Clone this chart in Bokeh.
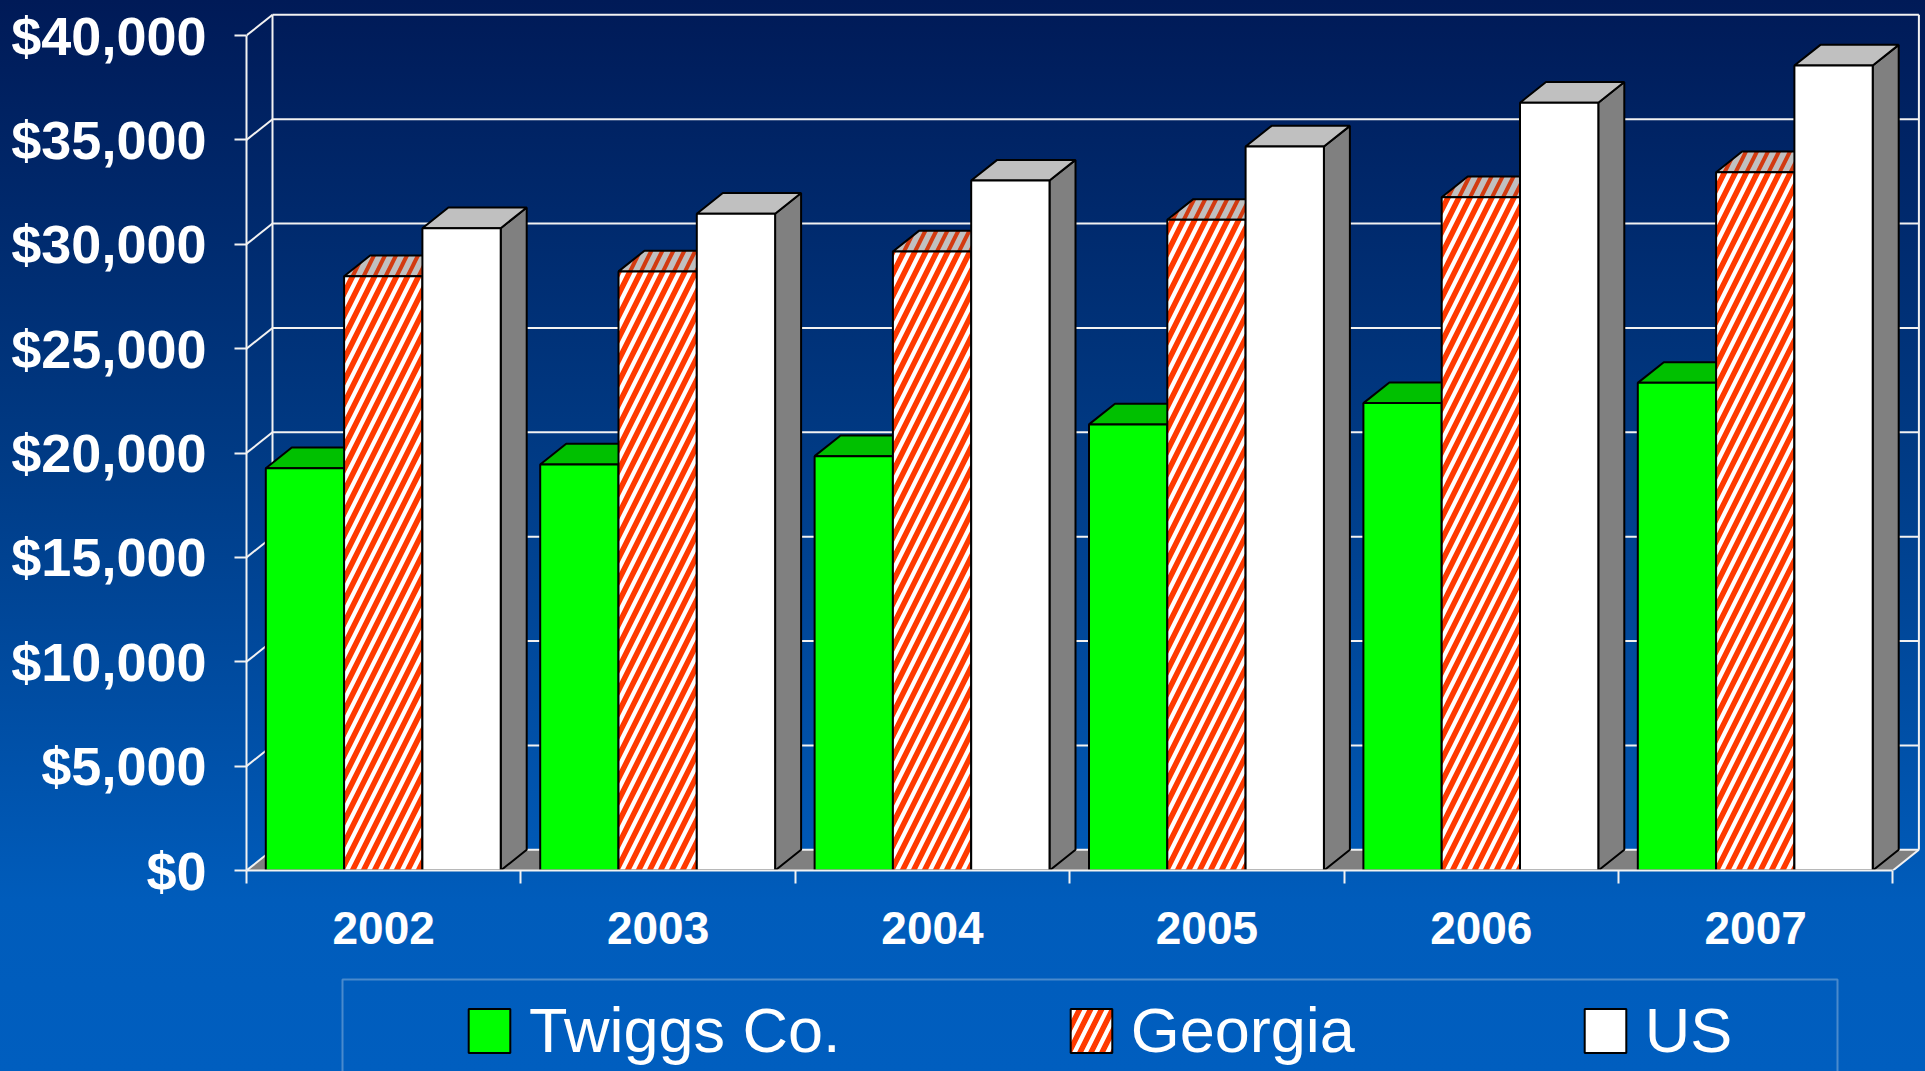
from bokeh.plotting import figure
from bokeh.layouts import column
from bokeh.models import (Range1d, FixedTicker, NumeralTickFormatter, Legend, LegendItem,
                          ColumnDataSource, BoxAnnotation, GlobalInlineStyleSheet)
from bokeh.embed import file_html
from bokeh.resources import INLINE

# ---------------- data ----------------
years = ["2002", "2003", "2004", "2005", "2006", "2007"]
twiggs = [19270, 19450, 19850, 21370, 22390, 23360]
georgia = [28470, 28700, 29650, 31170, 32250, 33450]
us = [30770, 31460, 33050, 34680, 36780, 38560]
series_labels = ["Twiggs Co.", "Georgia", "US"]
y_ticks = [0, 5000, 10000, 15000, 20000, 25000, 30000, 35000, 40000]

# ---------------- geometry ----------------
W = 1925
H1 = 970                  # chart part
H2 = 1071 - H1            # legend strip
FRAME_LEFT = 246
FRAME_H = 870
PX_CAT = 274.4            # px per category
PX_VAL = 835.0 / 40000    # px per dollar
x_end = (W - FRAME_LEFT) / PX_CAT
y_end = FRAME_H / PX_VAL
n = len(years)
DX = 26 / PX_CAT          # depth offset (x, in category units)
DY = 20.7 / PX_VAL        # depth offset (y, in dollars)
GAP = 19.3 / PX_CAT
BW = 78.3 / PX_CAT

page_grad = "linear-gradient(to bottom, #001a57 0px, #003a84 450px, #005cbb 900px, #005ebf 1071px)"

p = figure(width=W, height=H1, x_range=Range1d(0, x_end), y_range=Range1d(0, y_end),
           output_backend="svg", toolbar_location=None,
           min_border_left=FRAME_LEFT, min_border_right=0, min_border_top=0,
           min_border_bottom=H1 - FRAME_H,
           background_fill_alpha=0, border_fill_alpha=0, outline_line_color=None)
p.stylesheets = [GlobalInlineStyleSheet(css=(
    "html{background-color:#005ebf;background-image:" + page_grad +
    ";background-repeat:no-repeat;background-size:100% 1071px;overflow:hidden;}"
    "body{background:transparent;}"))]
p.grid.visible = False

# ---------------- floor and walls ----------------
p.patch([0, n, n + DX, DX], [0, 0, DY, DY], fill_color="#808080", line_color=None)

wall_x0, wall_y0, wall_x1, wall_y1 = [], [], [], []
for t in y_ticks:
    wall_x0.append(DX); wall_y0.append(t + DY); wall_x1.append(n + DX); wall_y1.append(t + DY)
    wall_x0.append(0); wall_y0.append(t); wall_x1.append(DX); wall_y1.append(t + DY)
wall_x0 += [DX, n + DX]; wall_y0 += [DY, DY]
wall_x1 += [DX, n + DX]; wall_y1 += [y_ticks[-1] + DY, y_ticks[-1] + DY]
wall_x0.append(n); wall_y0.append(0); wall_x1.append(n + DX); wall_y1.append(DY)
p.segment(wall_x0, wall_y0, wall_x1, wall_y1, line_color="#f2f2f2", line_width=2)

# ---------------- 3-D bars ----------------
styles = [
    dict(front=dict(fill_color="#00ff00"), top=dict(fill_color="#00c000"), side=dict(fill_color="#008000")),
    dict(front=dict(fill_color="#ffffff", hatch_pattern="/", hatch_color="#ff3a00", hatch_weight=5.5, hatch_scale=22),
         top=dict(fill_color="#c0c0c0", hatch_pattern="/", hatch_color="#d23a10", hatch_weight=4, hatch_scale=22),
         side=dict(fill_color="#808080")),
    dict(front=dict(fill_color="#ffffff"), top=dict(fill_color="#c0c0c0"), side=dict(fill_color="#808080")),
]

for s, vals in enumerate([twiggs, georgia, us]):
    lefts = [i + GAP + s * BW for i in range(n)]
    rights = [l + BW for l in lefts]
    side_xs = [[r, r + DX, r + DX, r] for r in rights]
    side_ys = [[0, DY, v + DY, v] for v in vals]
    p.patches(side_xs, side_ys, line_color="black", line_width=2, **styles[s]["side"])
    top_xs = [[l, r, r + DX, l + DX] for l, r in zip(lefts, rights)]
    top_ys = [[v, v, v + DY, v + DY] for v in vals]
    p.patches(top_xs, top_ys, line_color="black", line_width=2, **styles[s]["top"])
    src = ColumnDataSource(dict(left=lefts, right=rights, top=vals, bottom=[0] * n))
    p.quad(left="left", right="right", top="top", bottom="bottom", source=src,
           line_color="black", line_width=2, **styles[s]["front"])

# ---------------- axes ----------------
yax = p.yaxis[0]
yax.ticker = FixedTicker(ticks=y_ticks)
yax.formatter = NumeralTickFormatter(format="$0,0")
yax.bounds = (0, y_ticks[-1])
yax.axis_line_color = "#f2f2f2"
yax.axis_line_width = 2
yax.major_tick_line_color = "#f2f2f2"
yax.major_tick_line_width = 2
yax.major_tick_out = 12
yax.major_tick_in = 0
yax.minor_tick_line_color = None
yax.major_label_standoff = 28
yax.major_label_text_font = "Liberation Sans"
yax.major_label_text_font_style = "bold"
yax.major_label_text_font_size = "54px"
yax.major_label_text_color = "white"

xax = p.xaxis[0]
xax.ticker = FixedTicker(ticks=[i + 0.5 for i in range(n)], minor_ticks=list(range(n + 1)))
xax.major_label_overrides = {i + 0.5: years[i] for i in range(n)}
xax.bounds = (0, n)
xax.axis_line_color = "#f2f2f2"
xax.axis_line_width = 2
xax.major_tick_line_color = None
xax.major_tick_out = 0
xax.major_tick_in = 0
xax.minor_tick_line_color = "#f2f2f2"
xax.minor_tick_line_width = 2
xax.minor_tick_out = 13
xax.minor_tick_in = 0
xax.major_label_standoff = 28
xax.major_label_text_font = "Liberation Sans"
xax.major_label_text_font_style = "bold"
xax.major_label_text_font_size = "46px"
xax.major_label_text_color = "white"

# ---------------- legend strip ----------------
# (this plot's frame is aligned with the chart's frame, so screen x is measured from x = FRAME_LEFT)
p2 = figure(width=W, height=H2, x_range=Range1d(0, W), y_range=Range1d(0, H2),
            output_backend="svg", toolbar_location=None,
            x_axis_location=None, y_axis_location=None,
            min_border=0, background_fill_alpha=0, border_fill_alpha=0, outline_line_color=None)
p2.grid.visible = False

legend_renderers = []
for s in range(3):
    r = p2.quad(left=[-20], right=[-10], top=[1], bottom=[0],
                line_color="black", line_width=2, **styles[s]["front"])
    legend_renderers.append(r)

box = BoxAnnotation(left=342 - FRAME_LEFT, right=1837 - FRAME_LEFT, top=H2 - 9, bottom=-30,
                    left_units="screen", right_units="screen",
                    top_units="screen", bottom_units="screen",
                    fill_alpha=0, line_color="#f2f2f2", line_width=2)
p2.add_layout(box)

legend = Legend(items=[LegendItem(label=series_labels[s], renderers=[legend_renderers[s]]) for s in range(3)],
                orientation="horizontal", location=(463 - FRAME_LEFT, 5), padding=0, margin=0,
                spacing=224, glyph_width=52, glyph_height=55, label_standoff=14,
                label_text_font="Liberation Sans",
                label_text_font_size="63px", label_text_color="white",
                border_line_alpha=0, background_fill_alpha=0)
p2.add_layout(legend)

layout = column(p, p2, spacing=0)

open("out.html", "w").write(file_html(layout, INLINE))
